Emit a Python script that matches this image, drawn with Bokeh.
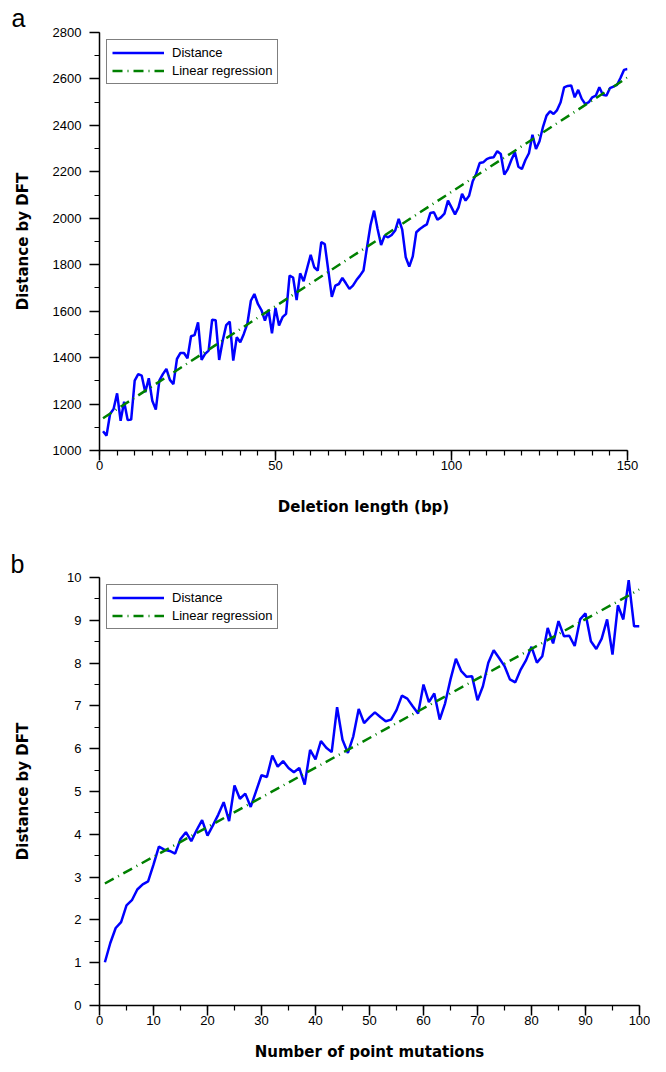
from bokeh.plotting import figure
from bokeh.models import Range1d, FixedTicker, Title
from bokeh.layouts import column
from bokeh.embed import file_html
from bokeh.resources import INLINE

# ---------------- data: panel a ----------------
a_x = list(range(1, 151))
a_dist = [1083, 1064, 1157, 1179, 1246, 1128, 1210, 1131, 1133, 1301,
          1329, 1322, 1251, 1311, 1214, 1176, 1301, 1329, 1351, 1304,
          1286, 1394, 1420, 1420, 1397, 1492, 1497, 1552, 1390, 1416,
          1430, 1563, 1561, 1390, 1473, 1540, 1555, 1387, 1488, 1466,
          1502, 1545, 1645, 1674, 1631, 1605, 1559, 1605, 1505, 1614,
          1538, 1574, 1588, 1753, 1745, 1648, 1763, 1729, 1786, 1843,
          1789, 1775, 1897, 1889, 1775, 1662, 1710, 1717, 1743, 1720,
          1696, 1710, 1734, 1753, 1775, 1875, 1971, 2033, 1954, 1885,
          1925, 1918, 1928, 1947, 1997, 1951, 1832, 1792, 1836, 1940,
          1954, 1965, 1974, 2023, 2026, 1994, 2004, 2020, 2076, 2047,
          2017, 2047, 2105, 2076, 2097, 2158, 2191, 2238, 2241, 2255,
          2261, 2263, 2289, 2277, 2188, 2212, 2251, 2284, 2222, 2212,
          2251, 2280, 2360, 2298, 2332, 2394, 2442, 2461, 2449, 2466,
          2500, 2564, 2570, 2572, 2521, 2553, 2514, 2492, 2500, 2521,
          2528, 2564, 2532, 2528, 2560, 2567, 2574, 2604, 2639, 2643]
a_reg_x = [1, 150]
a_reg_y = [1139, 2606]
a_xticks = [0, 50, 100, 150]
a_yticks = [1000, 1200, 1400, 1600, 1800, 2000, 2200, 2400, 2600, 2800]

# ---------------- data: panel b ----------------
b_x = list(range(1, 101))
b_dist = [1.01, 1.46, 1.81, 1.95, 2.34, 2.46, 2.71, 2.83, 2.90, 3.29,
          3.71, 3.64, 3.61, 3.55, 3.89, 4.05, 3.84, 4.10, 4.33, 3.97,
          4.21, 4.46, 4.75, 4.31, 5.14, 4.83, 4.95, 4.64, 5.01, 5.38,
          5.34, 5.84, 5.58, 5.71, 5.55, 5.45, 5.55, 5.16, 5.97, 5.75,
          6.18, 6.02, 5.92, 6.97, 6.21, 5.90, 6.29, 6.93, 6.60, 6.73,
          6.85, 6.74, 6.64, 6.68, 6.90, 7.24, 7.17, 6.99, 6.82, 7.50,
          7.09, 7.29, 6.68, 7.06, 7.62, 8.10, 7.81, 7.68, 7.69, 7.13,
          7.46, 8.01, 8.30, 8.12, 7.93, 7.62, 7.55, 7.85, 8.07, 8.38,
          8.01, 8.16, 8.82, 8.46, 8.98, 8.63, 8.64, 8.40, 9.02, 9.16,
          8.51, 8.33, 8.57, 9.02, 8.20, 9.35, 9.02, 9.94, 8.86, 8.86]
b_reg_x = [1, 100]
b_reg_y = [2.85, 9.72]
b_xticks = list(range(0, 101, 10))
b_yticks = list(range(0, 11))

BLUE = "#0000ff"
GREEN = "#008000"
TICK_FONT = "Liberation Sans"
TITLE_FONT = "DejaVu Sans"


def style(p, xlab, ylab, x_std, y_std):
    p.outline_line_color = None
    p.xgrid.visible = False
    p.ygrid.visible = False
    p.background_fill_color = "white"
    p.border_fill_color = "white"
    for ax in (p.xaxis[0], p.yaxis[0]):
        ax.axis_line_color = "black"
        ax.axis_line_width = 1.5
        ax.major_tick_line_color = "black"
        ax.major_tick_line_width = 1.5
        ax.minor_tick_line_color = "black"
        ax.minor_tick_line_width = 1.2
        ax.major_tick_in = 0
        ax.major_tick_out = 10
        ax.minor_tick_in = 0
        ax.minor_tick_out = 5
        ax.major_label_text_font = TICK_FONT
        ax.major_label_text_font_size = "13px"
        ax.major_label_text_color = "black"
        ax.axis_label_text_font = TITLE_FONT
        ax.axis_label_text_font_style = "bold"
        ax.axis_label_text_font_size = "15px"
        ax.axis_label_text_color = "black"
    p.xaxis.axis_label = xlab
    p.yaxis.axis_label = ylab
    p.xaxis.major_label_standoff = 0
    p.yaxis.major_label_standoff = 8
    p.xaxis.axis_label_standoff = x_std
    p.yaxis.axis_label_standoff = y_std


def legend_style(p):
    lg = p.legend[0]
    lg.location = "top_left"
    lg.margin = 7
    lg.padding = 5
    lg.spacing = 3
    lg.glyph_width = 52
    lg.glyph_height = 13
    lg.label_height = 13
    lg.label_standoff = 8
    lg.label_text_font = TICK_FONT
    lg.label_text_font_size = "13px"
    lg.label_text_color = "black"
    lg.border_line_color = "black"
    lg.border_line_width = 1.5
    lg.background_fill_alpha = 1.0


def panel_title(letter, offset, standoff):
    return Title(text=letter, align="left", offset=offset, standoff=standoff,
                 text_font=TICK_FONT, text_font_size="25px",
                 text_font_style="normal", text_color="black")


# ---------------- panel a ----------------
p1 = figure(frame_width=528, frame_height=418, min_border_left=99, min_border_right=20,
            min_border_top=32, min_border_bottom=94,
            x_range=Range1d(0, 150), y_range=Range1d(1000, 2800),
            title=panel_title("a", -88, 2),
            output_backend="svg", toolbar_location=None)
p1.line(a_x, a_dist, line_color=BLUE, line_width=2.5, legend_label="Distance")
p1.line(a_reg_x, a_reg_y, line_color=GREEN, line_width=2.5, line_dash="10 5 1 5",
        legend_label="Linear regression")
p1.xaxis.ticker = FixedTicker(ticks=a_xticks, minor_ticks=list(range(0, 151, 5)))
p1.yaxis.ticker = FixedTicker(ticks=a_yticks, minor_ticks=list(range(1000, 2801, 100)))
style(p1, "Deletion length (bp)", "Distance by DFT", 25, 18)
legend_style(p1)

# ---------------- panel b ----------------
p2 = figure(frame_width=540, frame_height=428, min_border_left=93, min_border_right=17,
            min_border_top=33, min_border_bottom=58,
            x_range=Range1d(0, 100), y_range=Range1d(0, 10),
            title=panel_title("b", -89, 0),
            output_backend="svg", toolbar_location=None)
p2.line(b_x, b_dist, line_color=BLUE, line_width=2.5, legend_label="Distance")
p2.line(b_reg_x, b_reg_y, line_color=GREEN, line_width=2.5, line_dash="10 5 1 5",
        legend_label="Linear regression")
p2.xaxis.ticker = FixedTicker(ticks=b_xticks, minor_ticks=list(range(0, 101, 5)))
p2.yaxis.ticker = FixedTicker(ticks=b_yticks, minor_ticks=[v / 2 for v in range(0, 21)])
style(p2, "Number of point mutations", "Distance by DFT", 15, 32)
legend_style(p2)

layout = column(p1, p2)
open("out.html", "w").write(file_html(layout, INLINE))
